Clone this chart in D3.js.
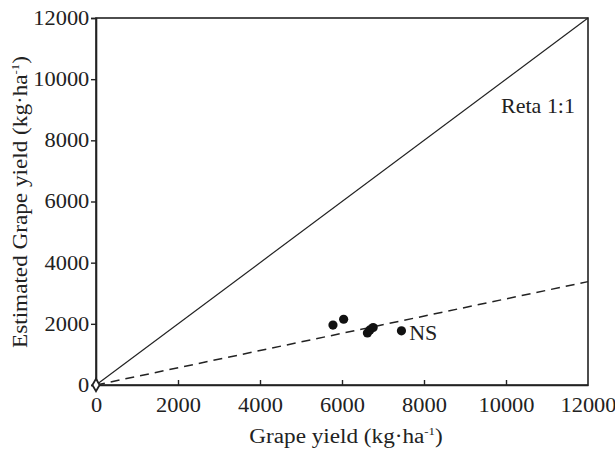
<!DOCTYPE html>
<html>
<head>
<meta charset="utf-8">
<script src="https://cdn.jsdelivr.net/npm/d3@7"></script>
<style>
  body { margin: 0; background: #fff; }
  text { font-family: "Liberation Serif", "Times New Roman", serif; fill: #222; }
</style>
</head>
<body>
<div id="chart"></div>
<script>
// observed vs estimated grape yield
var observed = [5780, 6040, 6620, 6680, 6760, 7450];
var estimated = [1960, 2150, 1700, 1800, 1880, 1770];
var xTicks = [0, 2000, 4000, 6000, 8000, 10000, 12000];
var yTicks = [0, 2000, 4000, 6000, 8000, 10000, 12000];
var oneToOne = [[0, 0], [12000, 12000]];
var fitLine = [[0, 0], [12000, 3380]];

var svg = d3.select('#chart').append('svg')
    .attr('width', 615)
    .attr('height', 449);

var x = d3.scaleLinear().domain([0, 12000]).range([96, 588]);
var y = d3.scaleLinear().domain([0, 12000]).range([385, 18]);

// frame
svg.append('rect')
    .attr('x', x(0)).attr('y', y(12000))
    .attr('width', x(12000) - x(0)).attr('height', y(0) - y(12000))
    .attr('fill', 'none').attr('stroke', '#222').attr('stroke-width', 1.6);

// y axis - ticks outward
var yAxis = svg.append('g')
    .attr('transform', 'translate(' + x(0) + ',0)')
    .call(d3.axisLeft(y).tickValues(yTicks).tickSize(5).tickPadding(1).tickFormat(d3.format('d')));
yAxis.select('.domain').attr('stroke', '#222').attr('stroke-width', 1.6);
yAxis.selectAll('line').attr('stroke', '#222').attr('stroke-width', 1.4);
yAxis.selectAll('text').style('font-size', '20px').attr('fill', '#222')
    .attr('transform', 'scale(1.12,1)');

// x axis - ticks inward
var xAxis = svg.append('g')
    .attr('transform', 'translate(0,' + y(0) + ')')
    .call(d3.axisBottom(x).tickValues(xTicks).tickSizeInner(-5).tickSizeOuter(0).tickPadding(13).tickFormat(d3.format('d')));
xAxis.select('.domain').attr('stroke', '#222').attr('stroke-width', 1.6);
xAxis.selectAll('line').attr('stroke', '#222').attr('stroke-width', 1.4);
xAxis.selectAll('text').style('font-size', '20px').attr('fill', '#222')
    .attr('transform', 'scale(1.12,1)');
xAxis.selectAll('.tick').filter(function (d) { return d === 0 || d === 12000; }).select('line').remove();

var line = d3.line()
    .x(function (d) { return x(d[0]); })
    .y(function (d) { return y(d[1]); });

svg.append('path').datum(oneToOne)
    .attr('d', line).attr('fill', 'none')
    .attr('stroke', '#222').attr('stroke-width', 1.2);

svg.append('path').datum(fitLine)
    .attr('d', line).attr('fill', 'none')
    .attr('stroke', '#222').attr('stroke-width', 1.5)
    .attr('stroke-dasharray', '9,6');

// points
svg.selectAll('circle.pt').data(observed)
    .enter().append('circle')
    .attr('class', 'pt')
    .attr('cx', function (d) { return x(d); })
    .attr('cy', function (d, i) { return y(estimated[i]); })
    .attr('r', 4.6)
    .attr('fill', '#111');

// origin marker
svg.append('path')
    .attr('d', d3.symbol().type(d3.symbolDiamond).size(45))
    .attr('transform', 'translate(' + x(0) + ',' + y(0) + ')')
    .attr('fill', '#fff').attr('stroke', '#222').attr('stroke-width', 1.8);

// labels
svg.append('text')
    .attr('transform', 'translate(' + x(9880) + ',' + y(8900) + ') scale(1.1,1)')
    .style('font-size', '20px')
    .text('Reta 1:1');

svg.append('text')
    .attr('transform', 'translate(' + x(7640) + ',' + y(1470) + ') scale(1.1,1)')
    .style('font-size', '20px')
    .text('NS');

// axis titles
var xt = svg.append('text')
    .attr('transform', 'translate(346,443) scale(1.16,1)')
    .attr('text-anchor', 'middle')
    .style('font-size', '20px');
xt.append('tspan').text('Grape yield (kg·ha');
xt.append('tspan').attr('dy', -8).style('font-size', '11px').text('-1');
xt.append('tspan').attr('dy', 8).text(')');

var yt = svg.append('text')
    .attr('transform', 'translate(27,202) rotate(-90) scale(1.16,1)')
    .attr('text-anchor', 'middle')
    .style('font-size', '20px');
yt.append('tspan').text('Estimated Grape yield (kg·ha');
yt.append('tspan').attr('dy', -8).style('font-size', '11px').text('-1');
yt.append('tspan').attr('dy', 8).text(')');
</script>
</body>
</html>
